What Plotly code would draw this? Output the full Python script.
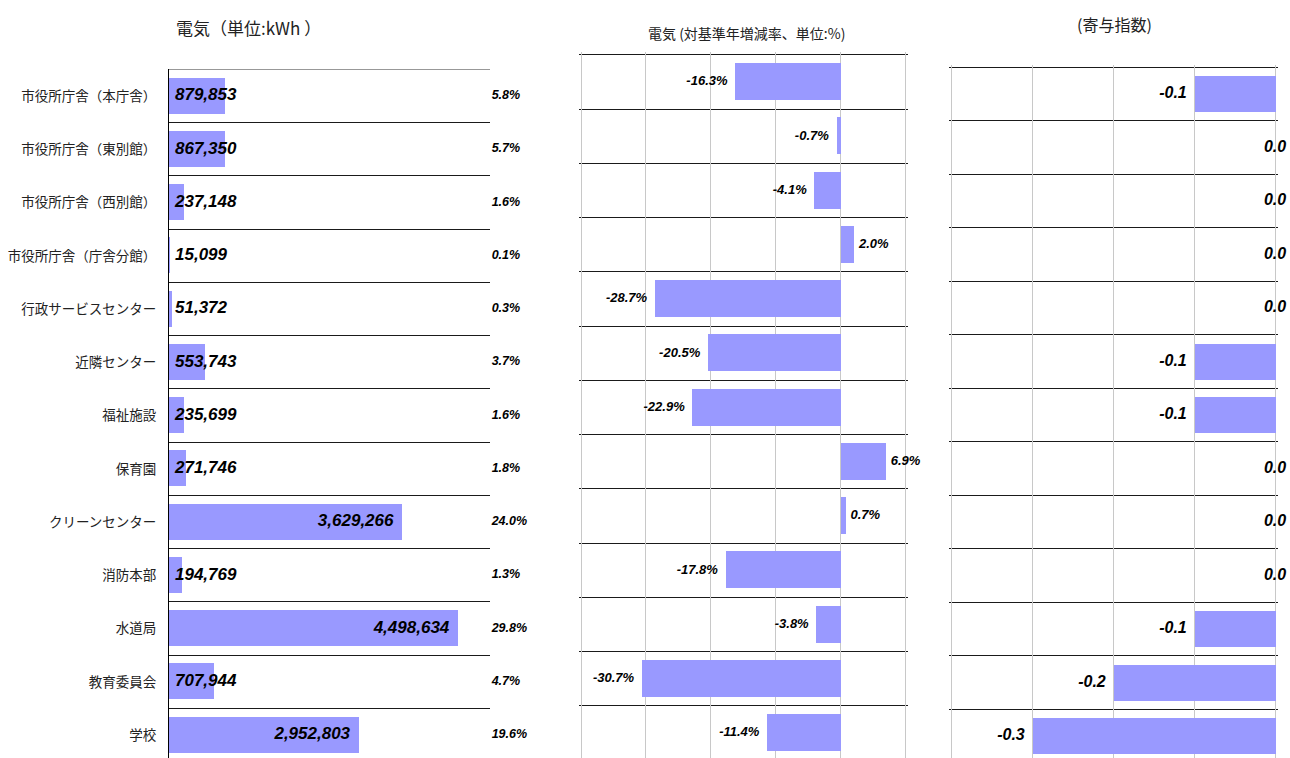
import plotly.graph_objects as go

# 施設区分
categories = [
    "市役所庁舎（本庁舎）", "市役所庁舎（東別館）", "市役所庁舎（西別館）", "市役所庁舎（庁舎分館）",
    "行政サービスセンター", "近隣センター", "福祉施設", "保育園", "クリーンセンター",
    "消防本部", "水道局", "教育委員会", "学校",
]
# 電気使用量 (kWh)
usage_kwh = [879853, 867350, 237148, 15099, 51372, 553743, 235699, 271746,
             3629266, 194769, 4498634, 707944, 2952803]
# 構成比 (%)
share_pct = [5.8, 5.7, 1.6, 0.1, 0.3, 3.7, 1.6, 1.8, 24.0, 1.3, 29.8, 4.7, 19.6]
# 対基準年増減率 (%)
change_pct = [-16.3, -0.7, -4.1, 2.0, -28.7, -20.5, -22.9, 6.9, 0.7, -17.8, -3.8, -30.7, -11.4]
# 寄与指数
contrib = [-0.1, 0.0, 0.0, 0.0, 0.0, -0.1, -0.1, 0.0, 0.0, 0.0, -0.1, -0.2, -0.3]

W, H = 1290, 758
BAR = "#9999FF"
NUM_FONT = "Liberation Sans, Arial, sans-serif"
JP_FONT = "Noto Sans CJK JP, Noto Sans CJK SC, sans-serif"
rows = list(range(len(categories)))
CLEAR = "rgba(0,0,0,0)"
PAD = 2.5  # px of slack so plotly keeps the rules drawn on the panel edges


def num_font(size):
    return dict(family=NUM_FONT, size=size, color="black", weight="bold", style="italic")


def label_trace(xs, texts, positions, pad_sizes, size, xa, ya):
    # invisible markers set the gap between the label and its anchor point
    return go.Scatter(x=xs, y=rows, mode="markers+text", text=texts,
                      textposition=positions, textfont=num_font(size),
                      marker=dict(size=pad_sizes, color=CLEAR, line=dict(width=0)),
                      cliponaxis=False, xaxis=xa, yaxis=ya, hoverinfo="skip")


def xspan(left_px, right_px, lo, hi, pad=PAD):
    per = (hi - lo) / (right_px - left_px)
    return dict(domain=[(left_px - pad) / W, (right_px + pad) / W],
                range=[lo - pad * per, hi + pad * per])


def yspan(top_px, row_h, pad=PAD):
    # reversed rows: -0.5 sits on top_px, the last row runs off the bottom edge
    top_val = -0.5 - pad / row_h
    return dict(domain=[0, 1 - (top_px - pad) / H],
                range=[-0.5 + (H - top_px) / row_h, top_val])


fig = go.Figure()

# --- 使用量パネル ---
fig.add_trace(go.Bar(x=usage_kwh, y=rows, orientation="h", width=0.68,
                     marker=dict(color=BAR, line=dict(width=0)),
                     xaxis="x", yaxis="y", hoverinfo="skip"))
big = 2_000_000
fig.add_trace(label_trace(
    [0 if v < big else v for v in usage_kwh],
    [f"{v:,}" for v in usage_kwh],
    ["middle right" if v < big else "middle left" for v in usage_kwh],
    [8 if v < big else 12 for v in usage_kwh], 17, "x", "y"))
fig.add_trace(label_trace(
    [5_000_000] * len(rows), [f"{v:.1f}%" for v in share_pct],
    "middle right", 1, 12.5, "x", "y"))

# --- 増減率パネル ---
fig.add_trace(go.Bar(x=change_pct, y=rows, orientation="h", width=0.68,
                     marker=dict(color=BAR, line=dict(width=0)),
                     xaxis="x2", yaxis="y2", hoverinfo="skip"))
fig.add_trace(label_trace(
    change_pct, [f"{v:.1f}%" for v in change_pct],
    ["middle left" if v < 0 else "middle right" for v in change_pct],
    [10 if v < 0 else 7 for v in change_pct], 13, "x2", "y2"))

# --- 寄与指数パネル ---
fig.add_trace(go.Bar(x=contrib, y=rows, orientation="h", width=0.68,
                     marker=dict(color=BAR, line=dict(width=0)),
                     xaxis="x3", yaxis="y3", hoverinfo="skip"))
fig.add_trace(label_trace(
    contrib, [f"{v:.1f}" for v in contrib],
    ["middle left" if v < 0 else "middle center" for v in contrib],
    [10 if v < 0 else 1 for v in contrib], 16, "x3", "y3"))

row_lines = dict(tickmode="linear", tick0=-0.5, dtick=1, showgrid=True,
                 gridcolor="#1a1a1a", gridwidth=1, ticklen=0)
v_grid = dict(showgrid=True, gridcolor="#c8c8c8", gridwidth=1, zeroline=False,
              showticklabels=False, ticks="")

fig.update_layout(
    width=W, height=H, margin=dict(l=0, r=0, t=0, b=0),
    paper_bgcolor="white", plot_bgcolor="white", showlegend=False, bargap=0,
    xaxis=dict(domain=[169 / W, 490 / W], range=[0, 5_000_000], showgrid=False,
               zeroline=False, showticklabels=False, ticks=""),
    yaxis=dict(**yspan(69.4, 53.25, pad=0.0), tickmode="array",
               tickvals=rows, ticktext=categories, ticks="", ticklabelstandoff=9,
               tickfont=dict(family=JP_FONT, size=13.5, color="#222"),
               showgrid=False, zeroline=False, showline=True, linecolor="black",
               linewidth=1, minor=row_lines),
    xaxis2=dict(**xspan(581, 905.5, -40, 10), dtick=10, tick0=0, **v_grid),
    yaxis2=dict(**yspan(54.9, 54.25), anchor="x2", showticklabels=False, ticks="",
                showgrid=False, zeroline=False, minor=row_lines),
    xaxis3=dict(**xspan(951, 1275, -0.4, 0), dtick=0.1, tick0=0, **v_grid),
    yaxis3=dict(**yspan(67.25, 53.5), anchor="x3", showticklabels=False, ticks="",
                showgrid=False, zeroline=False, minor=row_lines),
)

# top rule of the usage panel (the left axis line bounds it on the other side)
fig.add_shape(type="line", xref="x domain", yref="y", x0=0, x1=1, y0=-0.5, y1=-0.5,
              line=dict(color="#1a1a1a", width=1))

titles = [
    ("電気（単位:kWh ）", 248, 27, 17),
    ("電気 (対基準年増減率、単位:%)", 746, 33, 14),
    ("(寄与指数)", 1114, 24, 16),
]
for txt, cx, cy, sz in titles:
    fig.add_annotation(text=txt, x=cx / W, y=1 - cy / H, xref="paper", yref="paper",
                       showarrow=False, xanchor="center", yanchor="middle",
                       font=dict(family=JP_FONT, size=sz, color="#222"))

fig.write_html("out.html")
